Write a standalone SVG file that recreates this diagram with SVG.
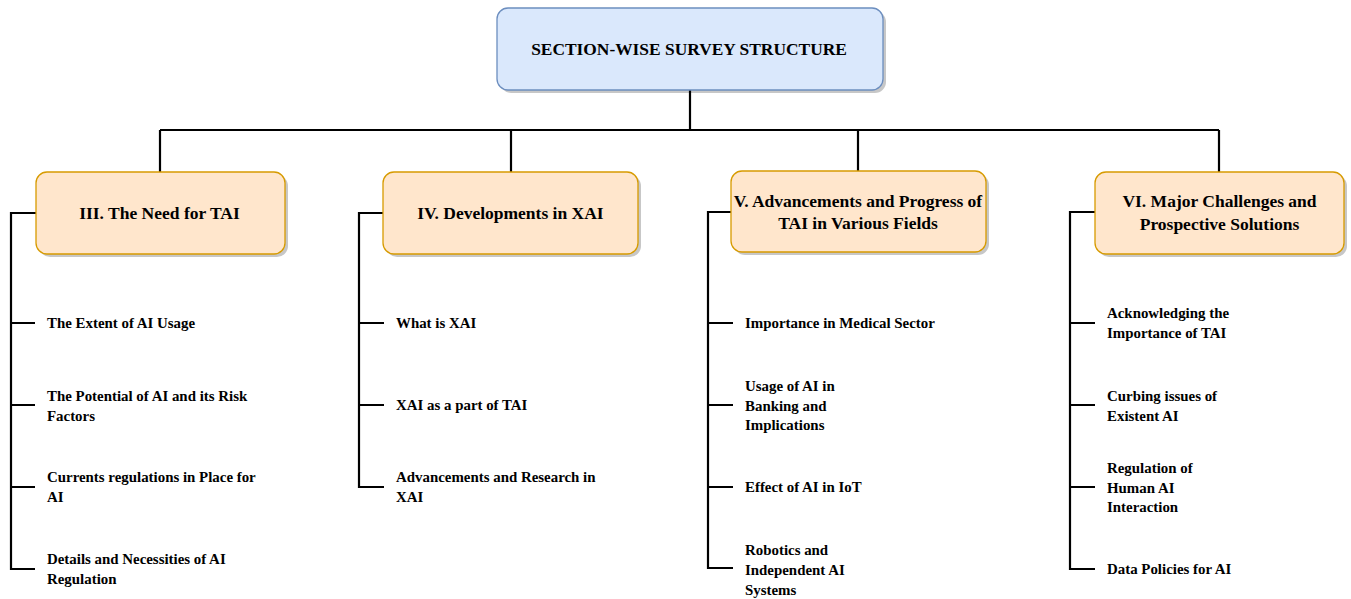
<svg xmlns="http://www.w3.org/2000/svg" width="1351" height="599" viewBox="0 0 1351 599">
<style>
.bg{fill:#ffffff}
.root{fill:#dae8fc;stroke:#6c8ebf;stroke-width:1.3}
.sec{fill:#ffe6cc;stroke:#d79b00;stroke-width:1.3}
.shadow{fill:#000000;opacity:0.22}
.ln{fill:none;stroke:#000000;stroke-width:2.2}
text{font-family:"Liberation Serif","Times New Roman",serif;font-weight:bold;fill:#000000}
.t{font-size:17.4px}
.h{font-size:17.5px;text-anchor:middle}
.i{font-size:14.9px}
</style>
<rect class="bg" x="0" y="0" width="1351" height="599"/>
<g id="connectors">
<path class="ln" d="M690 90 V130 M160 130 H1219 M160 130 V172 M511 130 V172 M858 130 V172 M1219 130 V172"/>
<path class="ln" d="M36 213 H11 V569 H35 M11 323 H35 M11 405 H35 M11 487 H35"/>
<path class="ln" d="M383 213 H359 V487 H384 M359 323 H384 M359 405 H384"/>
<path class="ln" d="M731 212 H708 V568 H733 M708 323 H733 M708 405 H733 M708 487 H733"/>
<path class="ln" d="M1095 212 H1070 V569 H1095 M1070 323 H1095 M1070 405 H1095 M1070 487 H1095"/>
</g>
<g id="root">
<rect class="shadow" x="500" y="11" width="386" height="82" rx="11"/>
<rect class="root" x="497" y="8" width="386" height="82" rx="11"/>
<text class="t" x="689" y="55" text-anchor="middle">SECTION-WISE SURVEY STRUCTURE</text>
</g>
<g id="sec3">
<rect class="shadow" x="39" y="175" width="249" height="82" rx="11"/>
<rect class="sec" x="36" y="172" width="249" height="82" rx="11"/>
<text class="h" x="159.5" y="219">III. The Need for TAI</text>
</g>
<g id="sec4">
<rect class="shadow" x="386" y="175" width="255" height="82" rx="11"/>
<rect class="sec" x="383" y="172" width="255" height="82" rx="11"/>
<text class="h" x="510.5" y="219">IV. Developments in XAI</text>
</g>
<g id="sec5">
<rect class="shadow" x="734" y="174" width="255" height="81" rx="11"/>
<rect class="sec" x="731" y="171" width="255" height="81" rx="11"/>
<text class="h" x="858" y="207">V. Advancements and Progress of</text>
<text class="h" x="858" y="229">TAI in Various Fields</text>
</g>
<g id="sec6">
<rect class="shadow" x="1098" y="175" width="249" height="82" rx="11"/>
<rect class="sec" x="1095" y="172" width="249" height="82" rx="11"/>
<text class="h" x="1219.5" y="207">VI. Major Challenges and</text>
<text class="h" x="1219.5" y="230">Prospective Solutions</text>
</g>
<g id="items3">
<text class="i" x="47" y="328">The Extent of AI Usage</text>
<text class="i" x="47" y="401">The Potential of AI and its Risk</text>
<text class="i" x="47" y="421">Factors</text>
<text class="i" x="47" y="482">Currents regulations in Place for</text>
<text class="i" x="47" y="502">AI</text>
<text class="i" x="47" y="564">Details and Necessities of AI</text>
<text class="i" x="47" y="584">Regulation</text>
</g>
<g id="items4">
<text class="i" x="396" y="328">What is XAI</text>
<text class="i" x="396" y="410">XAI as a part of TAI</text>
<text class="i" x="396" y="482">Advancements and Research in</text>
<text class="i" x="396" y="502">XAI</text>
</g>
<g id="items5">
<text class="i" x="745" y="328">Importance in Medical Sector</text>
<text class="i" x="745" y="391">Usage of AI in</text>
<text class="i" x="745" y="410.5">Banking and</text>
<text class="i" x="745" y="430">Implications</text>
<text class="i" x="745" y="492">Effect of AI in IoT</text>
<text class="i" x="745" y="555">Robotics and</text>
<text class="i" x="745" y="575">Independent AI</text>
<text class="i" x="745" y="595">Systems</text>
</g>
<g id="items6">
<text class="i" x="1107" y="318">Acknowledging the</text>
<text class="i" x="1107" y="338">Importance of TAI</text>
<text class="i" x="1107" y="401">Curbing issues of</text>
<text class="i" x="1107" y="421">Existent AI</text>
<text class="i" x="1107" y="473">Regulation of</text>
<text class="i" x="1107" y="492.5">Human AI</text>
<text class="i" x="1107" y="512">Interaction</text>
<text class="i" x="1107" y="574">Data Policies for AI</text>
</g>
</svg>
